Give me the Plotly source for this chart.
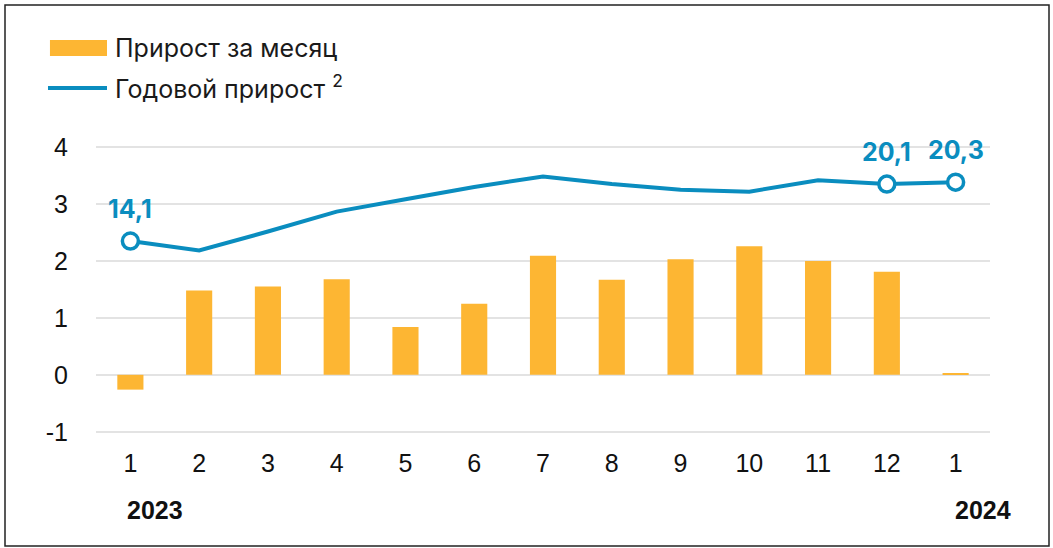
import plotly.graph_objects as go

months = ["1", "2", "3", "4", "5", "6", "7", "8", "9", "10", "11", "12", "1"]
monthly_growth = [-0.26, 1.48, 1.55, 1.68, 0.84, 1.25, 2.09, 1.67, 2.03, 2.26, 2.0, 1.81, 0.02]
annual_growth = [14.1, 13.1, 15.1, 17.2, 18.5, 19.8, 20.9, 20.1, 19.5, 19.3, 20.5, 20.1, 20.3]
labeled_idx = [0, 11, 12]
labeled_text = ["14,1", "20,1", "20,3"]
years = ["2023", "2024"]
year_idx = [0, 12]
y_ticks = [-1, 0, 1, 2, 3, 4]

ORANGE = "#FDB633"
BLUE = "#0A8DBF"
FONT = "Inter"
TICKFONT = "Liberation Sans"

pos = list(range(len(months)))

fig = go.Figure()
fig.add_trace(go.Bar(x=pos, y=monthly_growth, marker=dict(color=ORANGE, line=dict(width=0)),
                     name="Прирост за месяц", showlegend=False))
fig.add_trace(go.Scatter(x=pos, y=annual_growth, yaxis="y2", mode="lines",
                         line=dict(color=BLUE, width=4), showlegend=False))
fig.add_trace(go.Scatter(x=[pos[i] for i in labeled_idx], y=[annual_growth[i] for i in labeled_idx],
                         yaxis="y2", mode="markers",
                         marker=dict(symbol="circle", size=16, color="white", line=dict(color=BLUE, width=3.5)),
                         showlegend=False))

for i, t in zip(labeled_idx, labeled_text):
    fig.add_annotation(x=pos[i], y=annual_growth[i], yref="y2", text=t, showarrow=False,
                       yshift=32, font=dict(family=FONT, size=25, color=BLUE, weight="bold"))

for i, t, sh in zip(year_idx, years, [25, 27]):
    fig.add_annotation(x=pos[i], y=-0.2025, xref="x", yref="paper", text=t, showarrow=False,
                       xshift=sh, yanchor="middle",
                       font=dict(family=TICKFONT, size=25, color="#111", weight="bold"))

# legend drawn manually
fig.add_shape(type="rect", xref="paper", yref="paper", x0=-0.0515, x1=0.0123, y0=1.234, y1=1.285,
              fillcolor=ORANGE, line=dict(width=0))
fig.add_shape(type="line", xref="paper", yref="paper", x0=-0.0537, x1=0.0123, y0=1.133, y1=1.133,
              line=dict(color=BLUE, width=4))
fig.add_annotation(xref="paper", yref="paper", x=0.0190, y=1.259, xanchor="left", yanchor="middle",
                   text="Прирост за месяц", showarrow=False, font=dict(family=FONT, size=25, color="#1a1a1a"))
fig.add_annotation(xref="paper", yref="paper", x=0.0190, y=1.136, xanchor="left", yanchor="middle",
                   text="Годовой прирост <sup>2</sup>", showarrow=False, font=dict(family=FONT, size=25, color="#1a1a1a"))

# frame
fig.add_shape(type="rect", xref="paper", yref="paper", x0=(5 - 96) / 894, x1=(1049 - 96) / 894,
              y0=(446 - 546) / 316, y1=(446 - 5) / 316, line=dict(color="#222", width=1.5))

fig.update_layout(
    width=1053, height=548,
    margin=dict(l=96, r=63, t=130, b=102),
    paper_bgcolor="white", plot_bgcolor="white",
    bargap=0.62,
    font=dict(family=FONT, size=20, color="#1a1a1a"),
    xaxis=dict(range=[-0.5, 12.5], tickvals=pos, ticktext=months, showgrid=False, zeroline=False,
               showline=False, automargin=False,
               ticks="", tickfont=dict(family=TICKFONT, size=25, color="#111")),
    yaxis=dict(range=[-1.25, 4.3], tickvals=y_ticks, ticktext=[str(v) for v in y_ticks],
               showgrid=True, gridcolor="#E3E3E3", gridwidth=2, automargin=False,
               zeroline=True, zerolinecolor="#E3E3E3", zerolinewidth=2, showline=False,
               ticks="outside", ticklen=22, tickcolor="rgba(0,0,0,0)",
               tickfont=dict(family=TICKFONT, size=25, color="#111")),
    yaxis2=dict(range=[-7.5, 25.8], overlaying="y", visible=False),
)

fig.write_html("out.html", config={"displayModeBar": False},
               post_script="document.body.style.margin='0';")
